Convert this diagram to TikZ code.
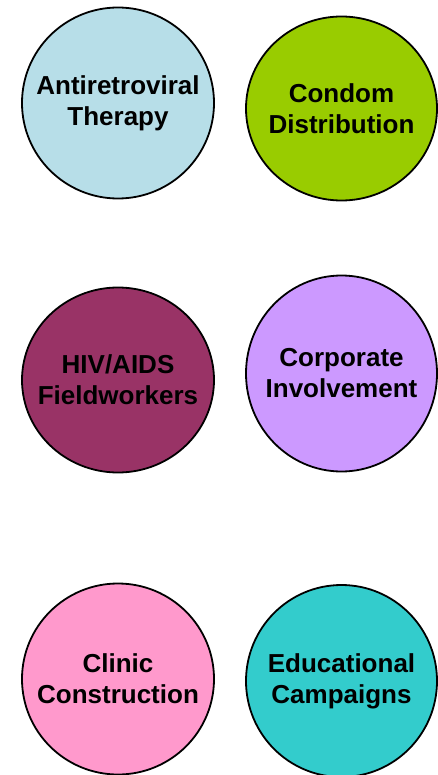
\documentclass[tikz,border=0pt]{standalone}
\usepackage{fontspec}
\setmainfont{Liberation Sans}
\usetikzlibrary{shapes.geometric}
\definecolor{cA}{HTML}{B7DEE8}
\definecolor{cB}{HTML}{99CC00}
\definecolor{cC}{HTML}{993366}
\definecolor{cD}{HTML}{CC99FF}
\definecolor{cE}{HTML}{FF99CC}
\definecolor{cF}{HTML}{33CCCC}
\tikzset{
  bubble/.style={ellipse, draw=black, line width=1.8pt, inner sep=0pt,
    minimum width=192pt, minimum height=191pt},
  lbl/.style={align=center, font=\fontsize{26}{31}\selectfont\bfseries, text=black, inner sep=0pt}
}
\begin{document}
\begin{tikzpicture}[x=1pt,y=-1pt]
\useasboundingbox (0,0) rectangle (438,775);
\node[bubble, fill=cA] (a) at (118,103) {};
\node[bubble, fill=cB, minimum width=191pt, minimum height=184pt] (b) at (341.5,108.5) {};
\node[bubble, fill=cC, minimum height=185pt] (c) at (118,380) {};
\node[bubble, fill=cD, minimum width=191pt, minimum height=196pt] (d) at (341.5,373.5) {};
\node[bubble, fill=cE] (e) at (118,679) {};
\node[bubble, fill=cF, minimum width=191pt, minimum height=192pt] (f) at (341.5,681) {};
\node[lbl] (ta) at (a) {Antiretroviral\\Therapy};
\node[lbl] (tb) at (b) {Condom\\Distribution};
\node[lbl] (tc) at (c) {HIV/AIDS\\Fieldworkers};
\node[lbl] (td) at (d) {Corporate\\Involvement};
\node[lbl] (te) at (e) {Clinic\\Construction};
\node[lbl] (tf) at (f) {Educational\\Campaigns};
\end{tikzpicture}
\end{document}
